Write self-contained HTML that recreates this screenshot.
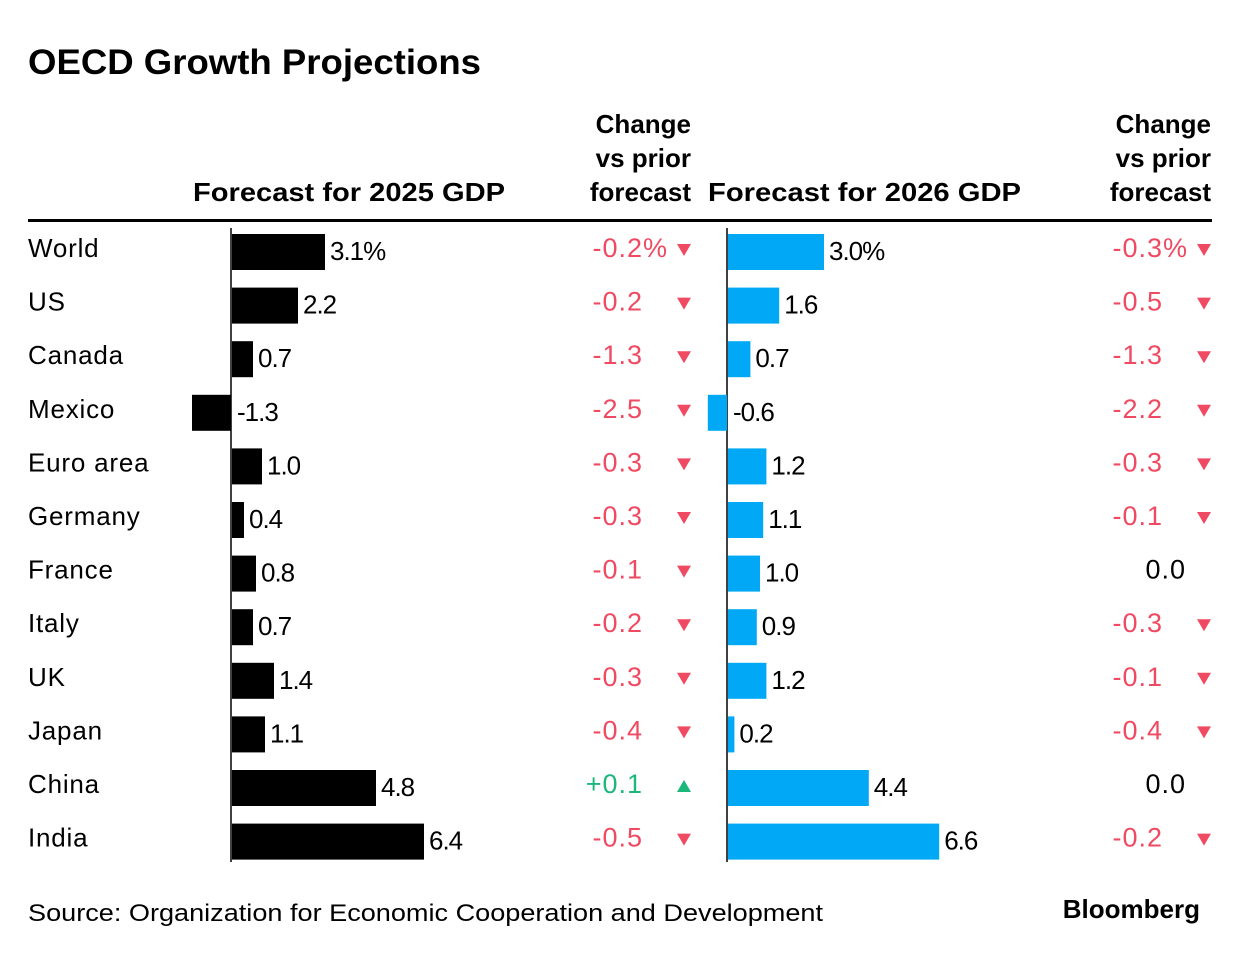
<!DOCTYPE html>
<html><head><meta charset="utf-8"><style>
body{margin:0;background:#fff;}
svg text{font-family:"Liberation Sans",sans-serif;}
</style></head><body>
<svg id="c" width="1240" height="954" xmlns="http://www.w3.org/2000/svg">
<text x="28" y="74" font-size="35" font-weight="bold" textLength="453" lengthAdjust="spacingAndGlyphs">OECD Growth Projections</text>
<g font-size="26" font-weight="bold" fill="#000">
<text x="193" y="201" textLength="312" lengthAdjust="spacingAndGlyphs">Forecast for 2025 GDP</text>
<text x="691" y="133" text-anchor="end">Change</text>
<text x="691" y="167" text-anchor="end">vs prior</text>
<text x="691" y="201" text-anchor="end">forecast</text>
<text x="708" y="201" textLength="313" lengthAdjust="spacingAndGlyphs">Forecast for 2026 GDP</text>
<text x="1211" y="133" text-anchor="end">Change</text>
<text x="1211" y="167" text-anchor="end">vs prior</text>
<text x="1211" y="201" text-anchor="end">forecast</text>
</g>
<rect x="28" y="219" width="1184" height="3" fill="#000"/>
<text x="28" y="921" font-size="24" textLength="795" lengthAdjust="spacingAndGlyphs">Source: Organization for Economic Cooperation and Development</text>
<text x="1200" y="918" font-size="26" font-weight="bold" text-anchor="end">Bloomberg</text>
</svg>
<script>
const countries=["World","US","Canada","Mexico","Euro area","Germany","France","Italy","UK","Japan","China","India"];
const gdp2025=[3.1,2.2,0.7,-1.3,1.0,0.4,0.8,0.7,1.4,1.1,4.8,6.4];
const chg2025=[-0.2,-0.2,-1.3,-2.5,-0.3,-0.3,-0.1,-0.2,-0.3,-0.4,0.1,-0.5];
const gdp2026=[3.0,1.6,0.7,-0.6,1.2,1.1,1.0,0.9,1.2,0.2,4.4,6.6];
const chg2026=[-0.3,-0.5,-1.3,-2.2,-0.3,-0.1,0.0,-0.3,-0.1,-0.4,0.0,-0.2];
const NS="http://www.w3.org/2000/svg",svg=document.getElementById('c');
const rowY=i=>250+i*53.6;
const x25=v=>231+v*30, x26=v=>727+v*32;
function mk(t,a,txt){const e=document.createElementNS(NS,t);for(const k in a)e.setAttribute(k,a[k]);if(txt!==undefined)e.textContent=txt;svg.appendChild(e);return e;}
function fmt(v,i){return i===0?v.toFixed(1)+"%":v.toFixed(1);}
function fmtC(v,i){let s=(v>0?"+":"")+v.toFixed(1);if(v===0)s="0.0";return i===0&&v!==0?s+"%":s;}
function tri(x,y,up,col){const p=up?`${x-7},${y+6} ${x+7},${y+6} ${x},${y-6}`:`${x-7},${y-6} ${x+7},${y-6} ${x},${y+6}`;return mk('polygon',{points:p,fill:col});}
let a=mk('line',{x1:231,x2:231,y1:228,y2:862,stroke:'#000','stroke-width':1.5});


a=mk('line',{x1:727,x2:727,y1:228,y2:862,stroke:'#000','stroke-width':1.5});


countries.forEach((c,i)=>{
  const y=rowY(i);
  let e=mk('text',{x:28,y:y+7,'font-size':26,'letter-spacing':'0.8'},c);
  
  
  [[gdp2025,x25,'#000','2025'],[gdp2026,x26,'#00a8f5','2026']].forEach(([arr,sx,col,yr])=>{
    const v=arr[i],x0=sx(0),x1=sx(v);
    const r=mk('rect',{x:Math.min(x0,x1)+(v>=0?1:0),y:y-16,width:Math.abs(x1-x0),height:36,fill:col});
    
    
    const t=mk('text',{x:v>=0?x1+6:x0+6,y:y+10,'font-size':26,'letter-spacing':'-1'},fmt(v,i));
    
    
  });
  [[chg2025,668,684,'2025'],[chg2026,1188,1204,'2026']].forEach(([arr,xr,xt,yr])=>{
    const v=arr[i];
    const col=v<0?'#f04a62':(v>0?'#1cb77a':'#000');
    const tx=v===0?xr-2:(i===0?xr:xr-25);
    const t=mk('text',{x:tx,y:y+7,'font-size':27,'letter-spacing':'1','text-anchor':'end',fill:col},fmtC(v,i));
    
    
    if(v!==0){const p=tri(xt,y,v>0,col);
      
      }
  });
});
</script>
</body></html>
